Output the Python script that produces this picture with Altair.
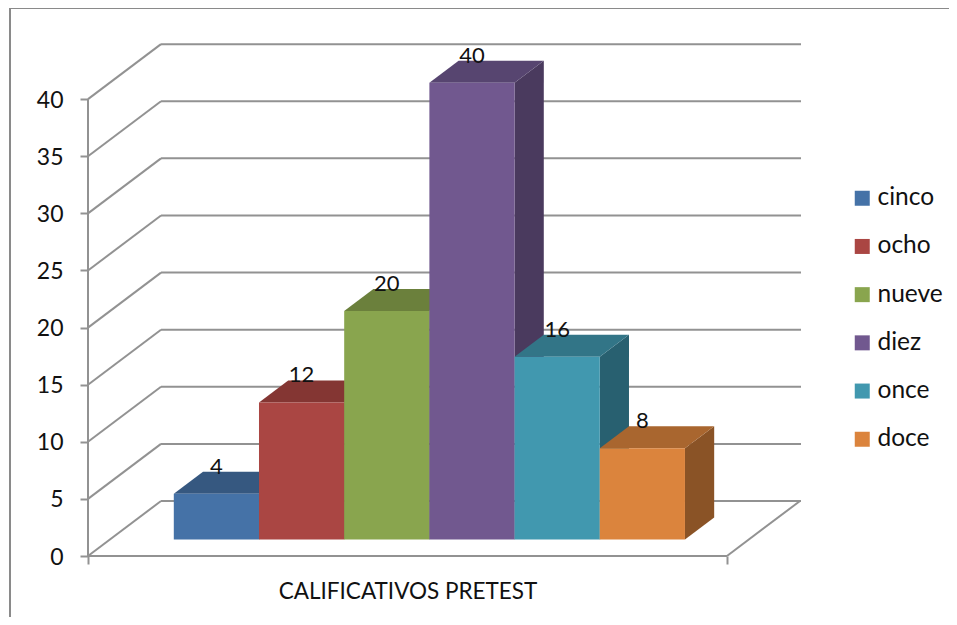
import altair as alt
import pandas as pd

categories = ["cinco", "ocho", "nueve", "diez", "once", "doce"]
values = [4, 12, 20, 40, 16, 8]
front_colors = ["#4572a7", "#aa4643", "#89a54e", "#71588f", "#4198af", "#db843d"]
top_colors = ["#365880", "#843633", "#6b803c", "#574570", "#327587", "#a9662f"]
side_colors = ["#2e4a6c", "#6e2d2a", "#596b32", "#4a3a5e", "#286070", "#8a5326"]
y_ticks = [0, 5, 10, 15, 20, 25, 30, 35, 40]
x_title = "CALIFICATIVOS PRETEST"

FONT = "Lato"
GRID = "#929292"
# 3D projection: how far one unit of depth shifts a point on the two axes
DX, DY = 0.857, 4.816
D0, D1 = 0.3, 0.7
GAP, FLOOR = 0.75, 7.5
X_MAX, Y_MAX = 8.369, 44.83

front, top, side, labels = [], [], [], []
for i, (c, v) in enumerate(zip(categories, values)):
    left, right = GAP + i, GAP + i + 1
    front.append(dict(c=c, x=left + D0 * DX, x2=right + D0 * DX, y=v + D0 * DY, y2=D0 * DY))
    labels.append(dict(c=c, x=(left + right) / 2 + D0 * DX, y=v + D0 * DY, t=str(v)))
    for d in (D0, D1):
        top.append(dict(c=c, x=left + d * DX, x2=right + d * DX, y=v + d * DY))
        side.append(dict(c=c, x=right + d * DX, y=v + d * DY, y2=d * DY))

grid = pd.DataFrame([dict(t=t, x=DX, x2=X_MAX, y=t + DY) for t in y_ticks])
wall = pd.DataFrame([dict(k=t, x=px, y=t + py) for t in y_ticks for px, py in ((0, 0), (DX, DY))]
                    + [dict(k=-1, x=FLOOR + px, y=py) for px, py in ((0, 0), (DX, DY))])
axes_x = pd.DataFrame([dict(x=0, x2=FLOOR, y=0)])
axes_y = pd.DataFrame([dict(x=0, y=0, y2=max(y_ticks))])

xs = alt.Scale(domain=[0, X_MAX], nice=False, zero=False)
ys = alt.Scale(domain=[0, Y_MAX], nice=False, zero=False)
X = alt.X("x:Q", scale=xs, axis=alt.Axis(
    values=[0, FLOOR], labels=False, domain=False, grid=False, tickColor=GRID, tickWidth=2, tickSize=8,
    title=x_title, titleFont=FONT, titleFontSize=22.5, titleFontWeight="normal", titleColor="#111111",
    titleX=319.5, titleY=24, titleAnchor="middle"))
Y = alt.Y("y:Q", scale=ys, axis=alt.Axis(
    values=y_ticks, domain=False, grid=False, tickColor=GRID, tickWidth=2, tickSize=8, labelFont=FONT,
    labelFontSize=23, labelColor="#111111", labelPadding=17, labelOffset=1, title=None))


def col(colors, legend=None):
    return alt.Color("c:N", scale=alt.Scale(domain=categories, range=colors), legend=legend)


base = alt.Chart(axes_x).mark_rule(color=GRID, strokeWidth=2).encode(x=X, x2="x2:Q", y=Y)
y_line = alt.Chart(axes_y).mark_rule(color=GRID, strokeWidth=2).encode(x=X, y=Y, y2="y2:Q")
grid_l = alt.Chart(grid).mark_rule(color=GRID, strokeWidth=2).encode(x=X, x2="x2:Q", y=Y)
wall_l = alt.Chart(wall).mark_line(color=GRID, strokeWidth=2).encode(x=X, y=Y, detail="k:N")

side_l = alt.Chart(pd.DataFrame(side)).mark_area(opacity=1).encode(x=X, y=Y, y2="y2:Q", color=col(side_colors))
top_l = alt.Chart(pd.DataFrame(top)).mark_area(orient="horizontal", opacity=1).encode(
    x=X, x2="x2:Q", y=Y, color=col(top_colors))
front_l = alt.Chart(pd.DataFrame(front)).mark_rect(opacity=1).encode(
    x=X, x2="x2:Q", y=Y, y2="y2:Q",
    color=col(front_colors, alt.Legend(
        title=None, orient="none", legendX=762, legendY=142, symbolType="square", symbolSize=225,
        symbolStrokeWidth=0, symbolOpacity=1, labelFont=FONT, labelFontSize=24.5, labelColor="#111111",
        rowPadding=23.2, labelOffset=3)),
)
label_l = alt.Chart(pd.DataFrame(labels)).mark_text(font=FONT, fontSize=22, color="#111111", dy=-27).encode(
    x=X, y=Y, text="t:N")

one = pd.DataFrame({"a": [0]})
frame_l = alt.Chart(one).mark_rule(color="#8a8a8a", strokeWidth=2).encode(
    x=alt.value(-78), y=alt.value(-36), y2=alt.value(581))
frame_t = alt.Chart(one).mark_rule(color="#8a8a8a", strokeWidth=2).encode(
    x=alt.value(-78), x2=alt.value(869), y=alt.value(-36))

chart = alt.layer(
    base, y_line, grid_l, wall_l, side_l, top_l, front_l, label_l, frame_l, frame_t
).resolve_scale(color="independent").properties(
    width=713, height=512, padding={"left": 80, "top": 36, "right": 148, "bottom": 61},
    autosize=alt.AutoSizeParams(type="none"), background="white",
).configure_view(stroke=None)

chart.save("out.html", embed_options={"renderer": "svg", "actions": False})
